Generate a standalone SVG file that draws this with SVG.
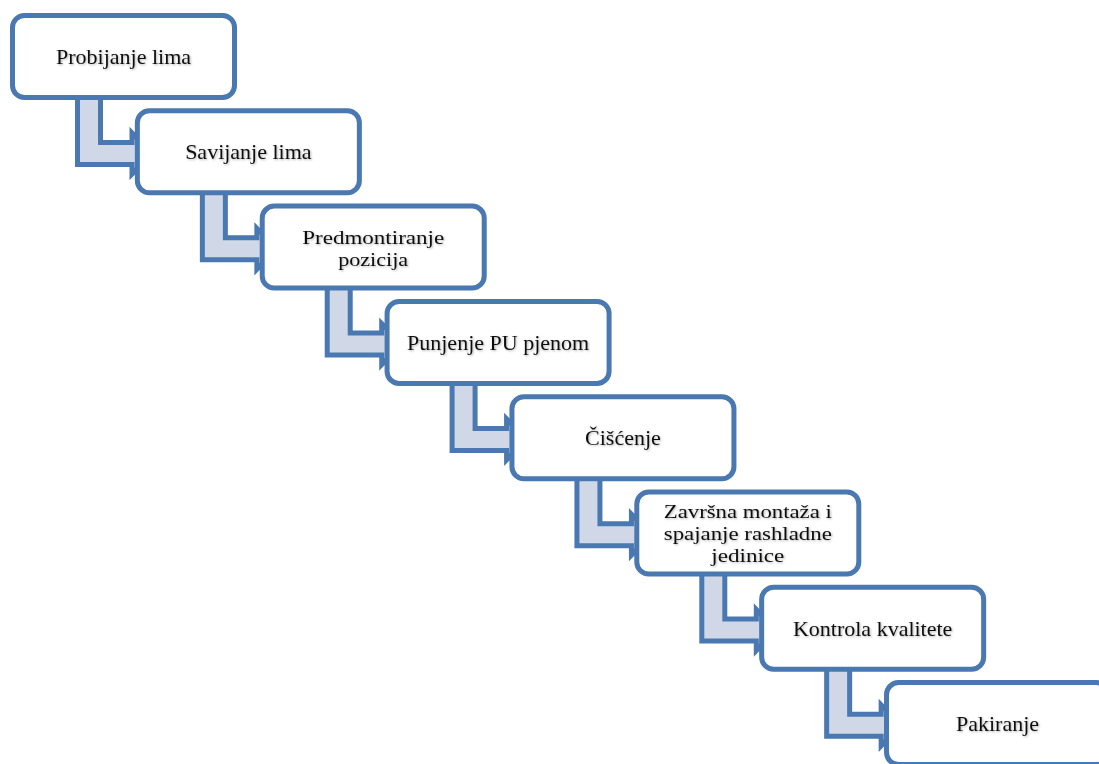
<svg xmlns="http://www.w3.org/2000/svg" xmlns:xlink="http://www.w3.org/1999/xlink" width="1099" height="764" viewBox="0 0 1099 764">
<style>
.box{fill:#ffffff;stroke:#4a78b1;stroke-width:5}
.arr{fill:#d0d8e8;stroke:#4a78b1;stroke-width:5;stroke-linejoin:miter}
.t{font-family:"Liberation Serif","Times New Roman",serif;font-size:22px;fill:#111111;text-anchor:middle}
.m{font-size:19.8px}
</style>
<defs>
<path id="a" d="M77.5 95 L100.5 95 L100.5 142.5 L132 142.5 L132 133 L152 153.5 L132 174 L132 164.5 L77.5 164.5 Z"/>
<filter id="sh" x="-10%" y="-30%" width="120%" height="160%">
<feDropShadow dx="1" dy="1" stdDeviation="0.8" flood-color="#000" flood-opacity="0.3"/>
</filter>
</defs>
<g id="connectors">
<use xlink:href="#a" class="arr" transform="translate(0 0)"/>
<use xlink:href="#a" class="arr" transform="translate(124.86 95.3)"/>
<use xlink:href="#a" class="arr" transform="translate(249.72 190.6)"/>
<use xlink:href="#a" class="arr" transform="translate(374.58 285.9)"/>
<use xlink:href="#a" class="arr" transform="translate(499.44 381.2)"/>
<use xlink:href="#a" class="arr" transform="translate(624.3 476.5)"/>
<use xlink:href="#a" class="arr" transform="translate(749.16 571.8)"/>
</g>
<g id="n1"><rect class="box" x="12.5" y="15.5" width="222" height="82" rx="12"/><text class="t" x="123.5" y="64" filter="url(#sh)">Probijanje lima</text></g>
<g id="n2"><rect class="box" x="137.36" y="110.8" width="222" height="82" rx="12"/><text class="t" x="248.36" y="159.3" filter="url(#sh)">Savijanje lima</text></g>
<g id="n3"><rect class="box" x="262.22" y="206.1" width="222" height="82" rx="12"/><text class="t m" x="373.2" y="243.5" textLength="142" lengthAdjust="spacingAndGlyphs" filter="url(#sh)">Predmontiranje</text><text class="t m" x="373.2" y="265.5" textLength="70" lengthAdjust="spacingAndGlyphs" filter="url(#sh)">pozicija</text></g>
<g id="n4"><rect class="box" x="387.08" y="301.4" width="222" height="82" rx="12"/><text class="t" x="498.08" y="349.9" filter="url(#sh)">Punjenje PU pjenom</text></g>
<g id="n5"><rect class="box" x="511.94" y="396.7" width="222" height="82" rx="12"/><text class="t" x="622.94" y="444.5" filter="url(#sh)">Čišćenje</text></g>
<g id="n6"><rect class="box" x="636.8" y="492" width="222" height="82" rx="12"/><text class="t m" x="747.8" y="518" textLength="168" lengthAdjust="spacingAndGlyphs" filter="url(#sh)">Završna montaža i</text><text class="t m" x="747.8" y="540" textLength="168" lengthAdjust="spacingAndGlyphs" filter="url(#sh)">spajanje rashladne</text><text class="t m" x="747.8" y="562" textLength="73" lengthAdjust="spacingAndGlyphs" filter="url(#sh)">jedinice</text></g>
<g id="n7"><rect class="box" x="761.66" y="587.3" width="222" height="82" rx="12"/><text class="t" x="872.66" y="635.8" filter="url(#sh)">Kontrola kvalitete</text></g>
<g id="n8"><rect class="box" x="886.52" y="682.6" width="222" height="82" rx="12"/><text class="t" x="997.52" y="731.1" filter="url(#sh)">Pakiranje</text></g>
</svg>
